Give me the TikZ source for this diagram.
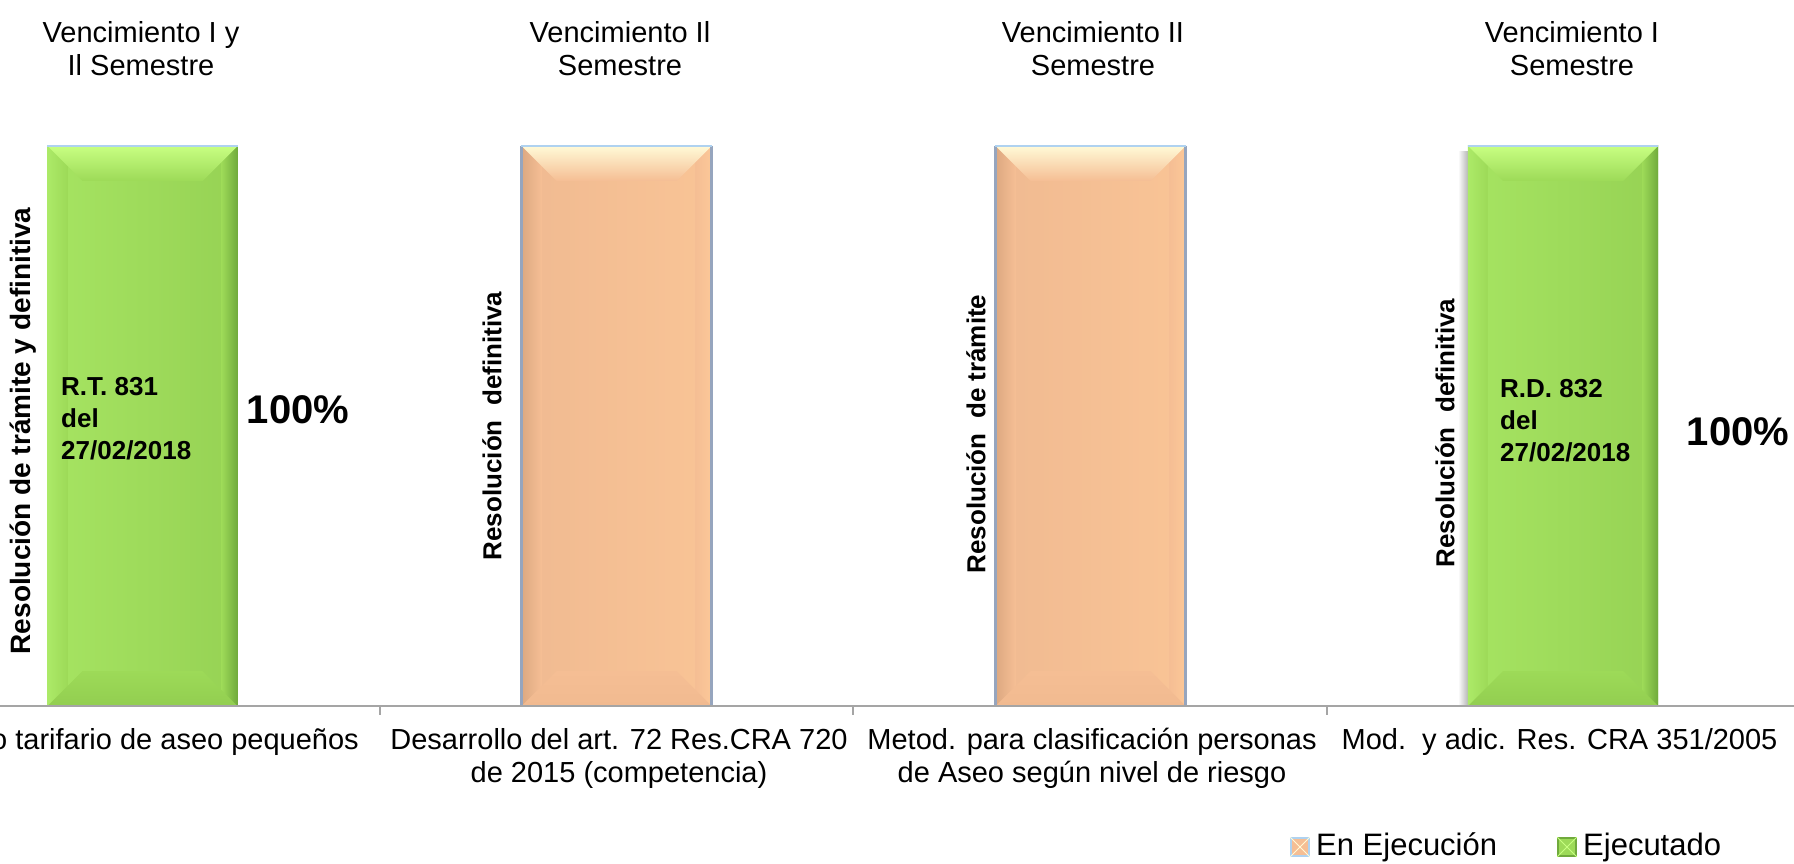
\documentclass[tikz,border=0pt]{standalone}
\usepackage{fontspec}
\setmainfont{Liberation Sans}
\definecolor{gM}{RGB}{157,218,88}
\definecolor{gLt}{RGB}{166,228,98}
\definecolor{gR}{RGB}{150,210,84}
\definecolor{gT}{RGB}{200,255,130}
\definecolor{gB}{RGB}{146,206,80}
\definecolor{gEdgeL}{RGB}{172,234,104}
\definecolor{gEdgeR}{RGB}{112,170,60}
\definecolor{oM}{RGB}{245,190,148}
\definecolor{oL}{RGB}{240,186,145}
\definecolor{oR}{RGB}{249,196,150}
\definecolor{oT}{RGB}{255,250,215}
\definecolor{oB}{RGB}{241,186,144}
\definecolor{oEdgeL}{RGB}{220,168,128}
\definecolor{oEdgeR}{RGB}{252,200,152}
\definecolor{edgeblue}{RGB}{150,165,190}
\definecolor{topblue}{RGB}{175,210,240}
\definecolor{axgray}{RGB}{165,165,165}
\definecolor{shadowgray}{RGB}{175,175,175}
\newcommand{\barbevel}[6]{%
  \shade[left color=#5, right color=#3] (#1.north west) rectangle ([xshift=20pt]#1.south west);
  \shade[left color=#3, right color=#6] ([xshift=-16pt]#1.north east) rectangle (#1.south east);
  \shade[top color=#2, bottom color=#3] (#1.north west) -- (#1.north east) -- ([shift={(-35pt,-35pt)}]#1.north east) -- ([shift={(35pt,-35pt)}]#1.north west) -- cycle;
  \shade[top color=#3, bottom color=#4] (#1.south west) -- (#1.south east) -- ([shift={(-35pt,35pt)}]#1.south east) -- ([shift={(35pt,35pt)}]#1.south west) -- cycle;
}
\begin{document}
\begin{tikzpicture}[x=1pt,y=1pt,
  title/.style={font=\fontsize{29}{33}\selectfont, align=center, inner sep=0pt},
  cat/.style={font=\fontsize{29}{33}\selectfont, align=center, inner sep=0pt},
  vlab/.style={font=\bfseries\fontsize{26}{30}\selectfont, rotate=90, inner sep=0pt},
  intext/.style={font=\bfseries\fontsize{26}{32}\selectfont, align=left, anchor=west, inner sep=0pt},
  pct/.style={font=\bfseries\fontsize{40}{44}\selectfont, inner sep=0pt},
  legtext/.style={font=\fontsize{31}{34}\selectfont, anchor=west, inner sep=0pt},
  barbase/.style={rectangle, inner sep=0pt, minimum width=190pt, minimum height=560pt, draw=none},
  barG/.style={barbase, left color=gLt, middle color=gM, right color=gR},
  barO/.style={barbase, left color=oL, middle color=oM, right color=oR},
  axisline/.style={draw=axgray, line width=2pt},
  topedge/.style={draw=topblue, line width=1.5pt},
  sideedge/.style={draw=edgeblue, line width=2.5pt},
  legO/.style={rectangle, minimum size=18pt, inner sep=0pt, fill=oM, draw=topblue, line width=1.5pt},
  legG/.style={rectangle, minimum size=18pt, inner sep=0pt, fill=gM, draw=gEdgeR, line width=1.5pt},
]
\useasboundingbox (0,-864) rectangle (1794,0);
\fill[white] (0,-864) rectangle (1794,0);

% titles
\node[title] (t1) at (141,-48.5) {Vencimiento I y\\Il Semestre};
\node[title] (t2) at (620,-48.5) {Vencimiento Il\\Semestre};
\node[title] (t3) at (1093,-48.5) {Vencimiento II\\Semestre};
\node[title] (t4) at (1572,-48.5) {Vencimiento I\\Semestre};

% shadow of bar 4
\shade[left color=white, right color=shadowgray] (1458,-152) rectangle (1469,-706);

% bars
\node[barG] (b1) at (142.5,-426) {};
\barbevel{b1}{gT}{gM}{gB}{gEdgeL}{gEdgeR}
\draw[topedge] (b1.north west) -- (b1.north east);

\node[barO] (b2) at (616.5,-426) {};
\barbevel{b2}{oT}{oM}{oB}{oEdgeL}{oEdgeR}
\draw[sideedge] (b2.north west) -- (b2.south west);
\draw[sideedge] (b2.north east) -- (b2.south east);
\draw[topedge] (b2.north west) -- (b2.north east);

\node[barO] (b3) at (1090.5,-426) {};
\barbevel{b3}{oT}{oM}{oB}{oEdgeL}{oEdgeR}
\draw[sideedge] (b3.north west) -- (b3.south west);
\draw[sideedge] (b3.north east) -- (b3.south east);
\draw[topedge] (b3.north west) -- (b3.north east);

\node[barG] (b4) at (1563,-426) {};
\barbevel{b4}{gT}{gM}{gB}{gEdgeL}{gEdgeR}
\draw[topedge] (b4.north west) -- (b4.north east);

% axis
\coordinate (axL) at (0,-706);
\coordinate (axR) at (1794,-706);
\draw[axisline] (axL) -- (axR);
\foreach \tx in {379.5,853,1326.5} {
  \draw[axisline] (\tx,-706) -- (\tx,-715);
}

% vertical labels
\node[vlab, font=\bfseries\fontsize{28}{30}\selectfont] (v1) at (23.5,-431) {Resolución de trámite y definitiva};
\node[vlab] (v2) at (492,-426) {Resolución\ \ definitiva};
\node[vlab] (v3) at (976,-434) {Resolución\ \ de trámite};
\node[vlab] (v4) at (1445,-433) {Resolución\ \ definitiva};

% text in bars
\node[intext] (r1) at (61,-419) {R.T. 831\\del\\27/02/2018};
\node[intext] (r4) at (1500,-421) {R.D. 832\\del\\27/02/2018};

% percentages
\node[pct] (p1) at (298,-410) {100\%};
\node[pct] (p4) at (1738,-432) {100\%};

% category labels
\node[cat, anchor=east] (c1) at (359,-742) {o tarifario de aseo pequeños};
\node[cat] (c2) at (619,-758.5) {Desarrollo del art. 72 Res.CRA 720\\de 2015 (competencia)};
\node[cat] (c3) at (1092,-758.5) {Metod. para clasificación personas\\de Aseo según nivel de riesgo};
\node[cat] (c4) at (1559.5,-742) {Mod.\ \ y adic. Res. CRA 351/2005};

% legend
\node[legO] (m1) at (1300,-847) {};
\draw[draw=oT, line width=0.8pt] (m1.north west) -- (m1.south east) (m1.north east) -- (m1.south west);
\node[legtext] (l1) at (1316,-847) {En Ejecución};
\node[legG] (m2) at (1567,-847) {};
\draw[draw=gT, line width=0.8pt] (m2.north west) -- (m2.south east) (m2.north east) -- (m2.south west);
\node[legtext] (l2) at (1583,-847) {Ejecutado};
\end{tikzpicture}
\end{document}
